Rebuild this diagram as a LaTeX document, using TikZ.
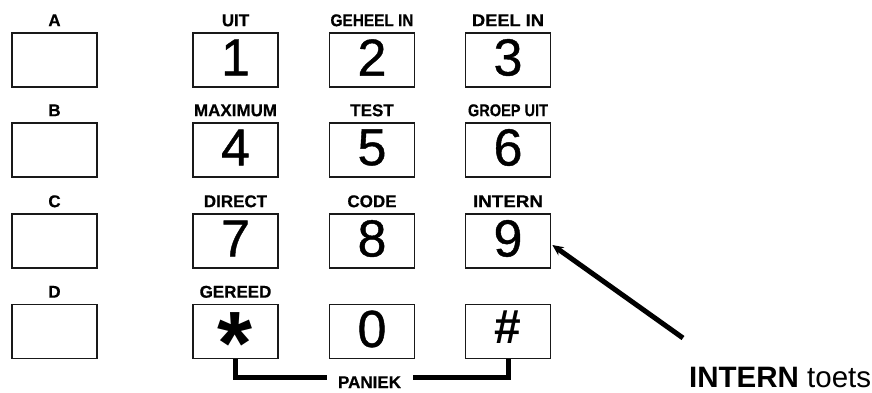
\documentclass[tikz,border=0pt]{standalone}
\usepackage{fontspec}
\setmainfont{Liberation Sans}
\newfontfamily\digitfont[FakeBold=0.8]{Liberation Sans}
\newfontfamily\lblfont[BoldFeatures={FakeBold=0.5}]{Liberation Sans}
\usepackage{graphicx}
\usetikzlibrary{arrows.meta}
\newcommand\fitw[2]{\resizebox{#1}{\height}{#2}}
\tikzset{
  keybox/.style={draw=black!90, line width=1.7pt, minimum width=85pt, minimum height=54pt, inner sep=0pt},
  digit/.style={font=\digitfont\fontsize{52}{52}\selectfont, inner sep=0pt},
  lbl/.style={font=\lblfont\bfseries\fontsize{17}{17}\selectfont, inner sep=0pt, anchor=base},
  thick line/.style={line width=5pt},
}
\begin{document}
\begin{tikzpicture}[x=1pt,y=1pt]
\useasboundingbox (0,0) rectangle (872,392);
% columns: 54.5, 235.5, 372, 508 ; rows: 332, 242, 151, 60.5
\foreach \n/\y in {A/332, B/242, C/151, D/60.5}{
  \node[keybox] (l\n) at (54.5,\y) {};
  \node[lbl] (t\n) at ([yshift=6pt]l\n.north) {\n};
}
\node[keybox] (k1) at (235.5,332) {};
\node[keybox] (k2) at (372,332) {};
\node[keybox] (k3) at (508,332) {};
\node[keybox] (k4) at (235.5,242) {};
\node[keybox] (k5) at (372,242) {};
\node[keybox] (k6) at (508,242) {};
\node[keybox] (k7) at (235.5,151) {};
\node[keybox] (k8) at (372,151) {};
\node[keybox] (k9) at (508,151) {};
\node[keybox] (kstar) at (235.5,60.5) {};
\node[keybox] (k0) at (372,60.5) {};
\node[keybox] (khash) at (508,60.5) {};
% digits
\foreach \k/\d in {k1/1,k2/2,k3/3,k4/4,k5/5,k6/6,k7/7,k8/8,k9/9,k0/0}{
  \node[digit] (d\k) at ([yshift=2.5pt]\k.center) {\d};
}
\node[font=\bfseries\fontsize{90}{90}\selectfont, inner sep=0pt, anchor=base] (dstar) at ([yshift=-43pt]kstar.center) {*};
\node[font=\bfseries\fontsize{48}{48}\selectfont, inner sep=0pt] (dhash) at ([yshift=4pt]khash.center) {\#};
% labels
\node[lbl] (u1) at ([yshift=6pt]k1.north) {UIT};
\node[lbl] (u2) at ([yshift=6pt]k2.north) {\fitw{83pt}{GEHEEL IN}};
\node[lbl] (u3) at ([yshift=6pt]k3.north) {\fitw{72pt}{DEEL IN}};
\node[lbl] (u4) at ([yshift=6pt]k4.north) {MAXIMUM};
\node[lbl] (u5) at ([yshift=6pt]k5.north) {TEST};
\node[lbl] (u6) at ([yshift=6pt]k6.north) {\fitw{80pt}{GROEP UIT}};
\node[lbl] (u7) at ([yshift=6pt]k7.north) {DIRECT};
\node[lbl] (u8) at ([yshift=6pt]k8.north) {CODE};
\node[lbl] (u9) at ([yshift=6pt]k9.north) {\fitw{70pt}{INTERN}};
\node[lbl] (ustar) at ([yshift=6pt]kstar.north) {GEREED};
% paniek
\node[lbl] (pan) at (369.5,4) {PANIEK};
\coordinate (pl) at (327,14.5);
\coordinate (pr) at (413,14.5);
\draw[thick line] (kstar.south) |- (pl);
\draw[thick line] (khash.south) |- (pr);
% arrow
\coordinate (tail) at (683,54);
\draw[thick line, -{Stealth[length=11pt,width=10pt]}] (tail) -- ([xshift=1pt,yshift=-4pt]k9.east);
\node[font=\fontsize{29.5}{29.5}\selectfont, inner sep=0pt, anchor=base west] (note) at (689,4.5) {\textbf{INTERN} toets};
\end{tikzpicture}
\end{document}
